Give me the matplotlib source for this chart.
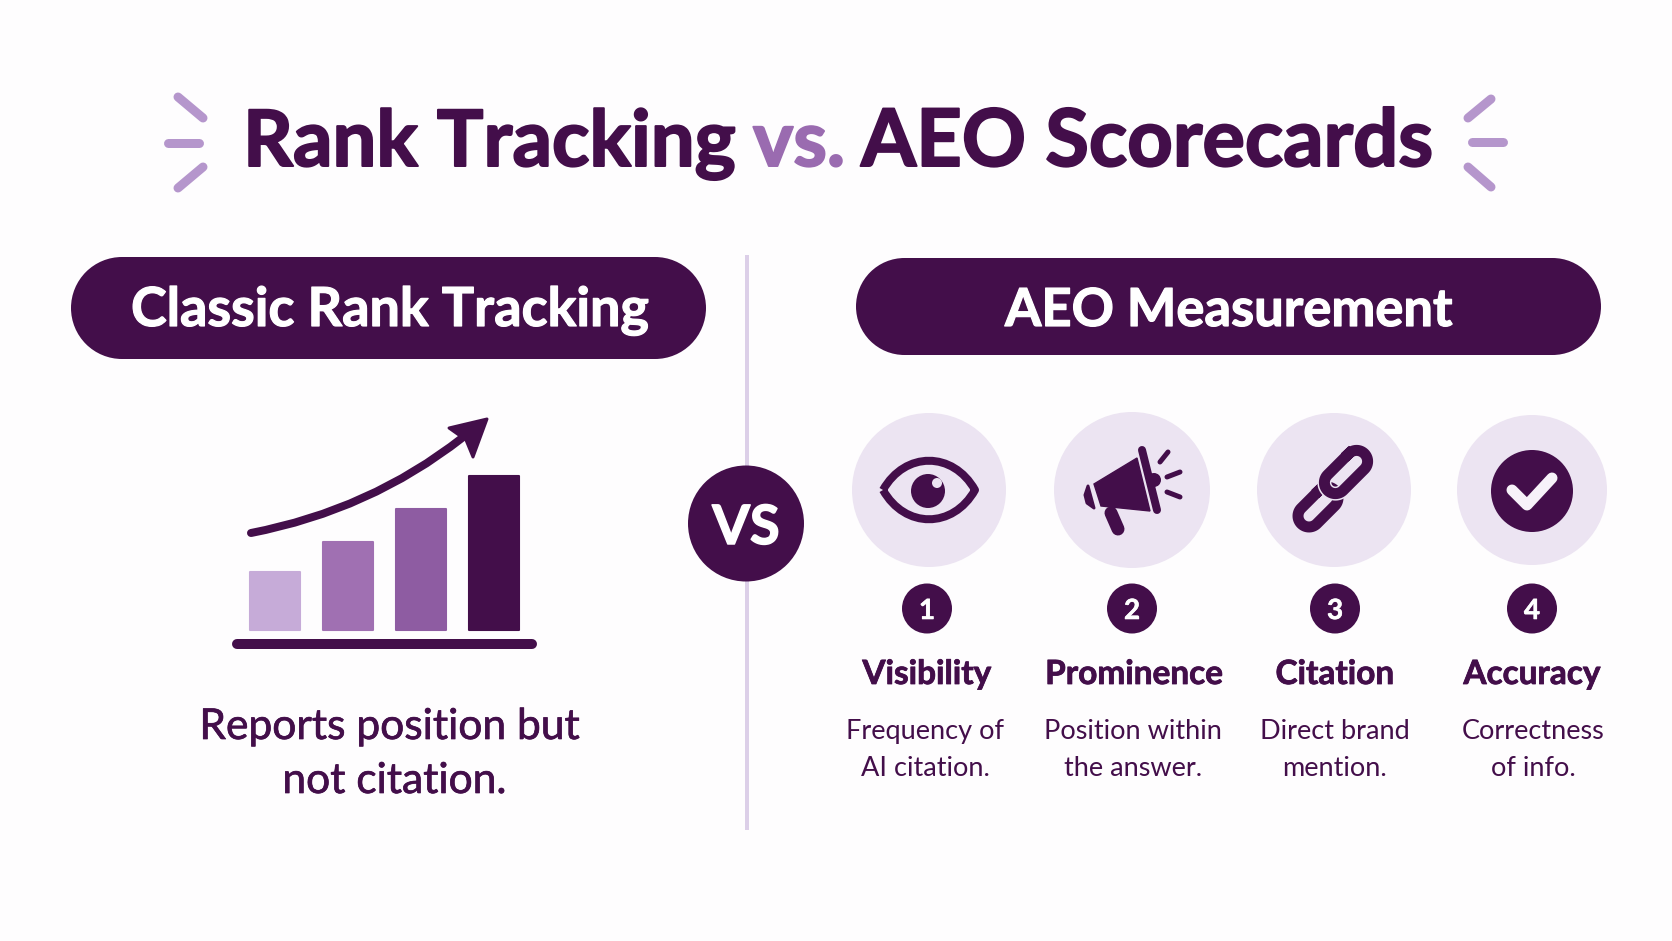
import numpy as np
import matplotlib
matplotlib.use("Agg")
import matplotlib.pyplot as plt
import matplotlib.patheffects as pe
from matplotlib.patches import Circle, FancyBboxPatch, PathPatch, Polygon
from matplotlib.path import Path

DARK = "#430E4A"
MID = "#9A6BB0"
SPARK = "#B596CC"
PALE = "#ECE4F2"
LINE = "#DCCFE8"
BG = "#FEFDFE"

title_parts = ["Rank Tracking", "vs.", "AEO Scorecards"]
left_head = "Classic Rank Tracking"
right_head = "AEO Measurement"
left_note = ["Reports position but", "not citation."]

bar_heights = [58, 88, 121, 154]
bar_colors = ["#C6ABD8", "#A070B2", "#8E5CA2", "#430E4A"]

metric_names = ["Visibility", "Prominence", "Citation", "Accuracy"]
metric_numbers = ["1", "2", "3", "4"]
metric_line1 = ["Frequency of", "Position within", "Direct brand", "Correctness"]
metric_line2 = ["AI citation.", "the answer.", "mention.", "of info."]


def px(v):
    # the axes run in image pixels, linewidths want points
    return v * 72 / 100


def label(x, y, s, size, color=DARK, weight="normal", ha="center", heavy=0):
    t = ax.text(x, y, s, fontsize=size, color=color, fontweight=weight, ha=ha,
                va="baseline", family="Lato")
    if heavy:
        # Lato has no weight this heavy, so thicken the glyphs a little
        t.set_path_effects([pe.withStroke(linewidth=px(heavy), foreground=color)])


def stroke(points, width, color=DARK, zorder=3):
    xs, ys = zip(*points)
    ax.plot(xs, ys, color=color, lw=px(width), solid_capstyle="round",
            solid_joinstyle="round", zorder=zorder)


def pill(x0, y0, x1, y1):
    h = y1 - y0
    ax.add_patch(FancyBboxPatch((x0 + h / 2, y0), x1 - x0 - h, h, boxstyle="square,pad=0",
                                fc=DARK, ec="none"))
    ax.add_patch(Circle((x0 + h / 2, y0 + h / 2), h / 2, fc=DARK, ec="none"))
    ax.add_patch(Circle((x1 - h / 2, y0 + h / 2), h / 2, fc=DARK, ec="none"))


def link(cx, cy, half, r, width, gap=0):
    # chain link: a stadium outline lying along the rising diagonal
    t = np.linspace(-np.pi / 2, np.pi / 2, 30)
    right = np.column_stack([half + r * np.cos(t), r * np.sin(t)])
    left = np.column_stack([-half - r * np.cos(t), -r * np.sin(t)])
    pts = np.vstack([right, left, right[:1]])
    c, s = np.cos(np.pi / 4), np.sin(np.pi / 4)
    xs = cx + c * pts[:, 0] + s * pts[:, 1]
    ys = cy - s * pts[:, 0] + c * pts[:, 1]
    if gap:
        ax.plot(xs, ys, color=PALE, lw=px(width + gap), zorder=3)
    ax.plot(xs, ys, color=DARK, lw=px(width), zorder=3, solid_joinstyle="round")


fig = plt.figure(figsize=(16.72, 9.41), dpi=100, facecolor=BG)
ax = fig.add_axes([0, 0, 1, 1])
ax.set_xlim(0, 1672)
ax.set_ylim(941, 0)
ax.axis("off")

# title and the little sparks on both sides
label(243, 166, title_parts[0], 56, weight="bold", ha="left", heavy=2)
label(753, 166, title_parts[1], 55, color=MID, weight="bold", ha="left", heavy=2)
label(861, 166, title_parts[2], 57.2, weight="bold", ha="left", heavy=2)
for a, b in [((178, 97), (203, 118)), ((168, 143), (199, 143)), ((203, 167), (178, 188)),
             ((1491, 99), (1468, 118)), ((1472, 142), (1503, 142)), ((1468, 167), (1491, 187))]:
    stroke([a, b], 9, SPARK)

pill(71, 257, 706, 359)
pill(856, 258, 1601, 355)
label(390, 326, left_head, 38.8, color="white", weight="bold", heavy=1.2)
label(1229, 326, right_head, 37.8, color="white", weight="bold", heavy=1.2)

# divider with the VS badge
ax.plot([747, 747], [257, 828], color=LINE, lw=px(4), zorder=1)
ax.add_patch(Circle((746, 523.5), 58, fc=DARK, ec="none", zorder=2))
label(746, 544, "VS", 39, color="white", weight="bold", heavy=1.5)

# left panel: rising bars and arrow
bar_x = [275, 348, 421, 494]
ax.bar(bar_x, [-v for v in bar_heights], width=50, bottom=630, color=bar_colors,
       edgecolor=bar_colors, linewidth=1.5, joinstyle="round", zorder=2)
stroke([(237, 644), (532, 644)], 10)
ax.add_patch(PathPatch(Path([(251, 533), (370, 510), (462, 438)],
                            [Path.MOVETO, Path.CURVE3, Path.CURVE3]),
                       fc="none", ec=DARK, lw=px(8), capstyle="round", zorder=3))
ax.add_patch(Polygon([(487, 419), (449, 428), (466, 440), (473, 457)], closed=True,
                     fc=DARK, ec=DARK, lw=px(3), joinstyle="round", zorder=3))
label(389, 739, left_note[0], 30.6, heavy=0.7)
label(394, 793, left_note[1], 30.6, heavy=0.7)

# right panel: four metrics
icon_x = [929, 1132, 1334, 1532]
icon_r = [77, 78, 77, 75]
num_x = [927, 1132, 1335, 1532]
name_x = [927, 1134, 1335, 1532]
desc_x = [925, 1133, 1335, 1533]
for i in range(4):
    ax.add_patch(Circle((icon_x[i], 490), icon_r[i], fc=PALE, ec="none", zorder=1))
    ax.add_patch(Circle((num_x[i], 608.5), 25, fc=DARK, ec="none", zorder=1))
    label(num_x[i], 619, metric_numbers[i], 20, color="white", weight="bold", heavy=0.6)
    label(name_x[i], 684, metric_names[i], 24, weight="bold", heavy=0.8)
    label(desc_x[i], 739, metric_line1[i], 19.5)
    label(desc_x[i], 776, metric_line2[i], 19.5)

# eye
eye = Path([(883, 490), (905, 451), (953, 451), (975, 490), (953, 529), (905, 529), (883, 490)],
           [Path.MOVETO] + [Path.CURVE4] * 6)
ax.add_patch(PathPatch(eye, fc="none", ec=DARK, lw=px(8), joinstyle="round", zorder=3))
ax.add_patch(Circle((928, 491), 17, fc=DARK, ec="none", zorder=3))
ax.add_patch(Circle((937, 483), 5, fc=PALE, ec="none", zorder=4))

# megaphone
ax.add_patch(Polygon([(1094, 484), (1137, 458), (1150, 511), (1101, 506)], closed=True,
                     fc=DARK, ec=DARK, lw=1, zorder=3))
stroke([(1111, 513), (1118, 529)], 13)
stroke([(1142, 450), (1157, 510)], 8)
ax.add_patch(Polygon([(1088, 486), (1085, 495), (1087, 503), (1094, 508)], closed=True,
                     fc=DARK, ec=DARK, lw=px(3), joinstyle="round", zorder=3))
ax.add_patch(Circle((1154, 480), 7, fc=DARK, ec="none", zorder=3))
stroke([(1168, 452), (1160, 462)], 5)
stroke([(1180, 472), (1167, 477)], 5)
stroke([(1180, 497), (1167, 492)], 5)

# chain
link(1318, 507, 12.7, 11, 11)
link(1346, 472, 15, 11, 11, gap=3)

# check
ax.add_patch(Circle((1532, 491), 41, fc=DARK, ec="none", zorder=3))
stroke([(1512, 490), (1527, 505), (1552, 478)], 11, "#F7F2F9", zorder=4)

fig.savefig("out.png", dpi=100, facecolor=BG)
